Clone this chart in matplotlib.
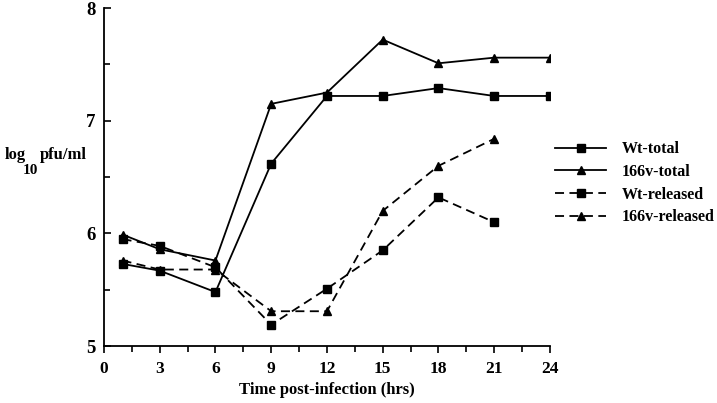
import matplotlib.pyplot as plt
from matplotlib.ticker import MultipleLocator

# ------------------------------
# DATA
# ------------------------------
hours = [1, 3, 6, 9, 12, 15, 18, 21, 24]
hours_rel = [1, 3, 6, 9, 12, 15, 18, 21]

wt_total = [5.73, 5.67, 5.48, 6.62, 7.22, 7.22, 7.29, 7.22, 7.22]
v166_total = [5.99, 5.86, 5.76, 7.15, 7.25, 7.72, 7.51, 7.56, 7.56]
wt_released = [5.95, 5.89, 5.70, 5.19, 5.51, 5.85, 6.32, 6.10]
v166_released = [5.76, 5.68, 5.68, 5.31, 5.31, 6.20, 6.60, 6.84]

x_ticks = [0, 3, 6, 9, 12, 15, 18, 21, 24]
y_ticks = [5, 6, 7, 8]

plt.rcParams["font.family"] = ["Liberation Serif", "DejaVu Serif"]
plt.rcParams["font.weight"] = "bold"

fig = plt.figure(figsize=(7.17, 4.03), dpi=100)
ax = fig.add_axes([0.145, 0.141, 0.622, 0.839])

lw = 1.3
dash = (5, 3)
ax.plot(hours, wt_total, color="black", lw=lw, marker="s", ms=6, label="Wt-total")
ax.plot(hours, v166_total, color="black", lw=lw, marker="^", ms=6, label="166v-total")
ax.plot(hours_rel, wt_released, color="black", lw=lw, marker="s", ms=6,
        linestyle="--", dashes=dash, label="Wt-released")
ax.plot(hours_rel, v166_released, color="black", lw=lw, marker="^", ms=6,
        linestyle="--", dashes=dash, label="166v-released")

ax.set_xlim(0, 24)
ax.set_ylim(5, 8)
ax.set_xticks(x_ticks)
ax.set_yticks(y_ticks)
ax.xaxis.set_minor_locator(MultipleLocator(1.5))
ax.yaxis.set_minor_locator(MultipleLocator(0.5))

ax.spines["top"].set_visible(False)
ax.spines["right"].set_visible(False)
for s in ["left", "bottom"]:
    ax.spines[s].set_linewidth(1.3)

ax.tick_params(axis="x", which="major", direction="out", length=5, width=1.2,
               labelsize=12.5, pad=6)
ax.tick_params(axis="x", which="minor", direction="out", length=4, width=1.2)
ax.tick_params(axis="y", which="major", direction="in", length=5, width=1.2,
               labelsize=13.5, pad=6)
ax.tick_params(axis="y", which="minor", direction="in", length=4, width=1.2)
for lab in ax.get_xticklabels() + ax.get_yticklabels():
    lab.set_fontweight("bold")

ax.set_xlabel("Time post-infection (hrs)", fontsize=12, fontweight="bold", labelpad=3)

# y label: log10 pfu/ml with lowered subscript
fig.text(0.007, 0.605, "log", fontsize=12, fontweight="bold", ha="left", va="baseline")
fig.text(0.056, 0.605, "pfu/ml", fontsize=12, fontweight="bold", ha="left", va="baseline")
fig.text(0.032, 0.568, "10", fontsize=11, fontweight="bold", ha="left", va="baseline")

leg = ax.legend(loc="center left", bbox_to_anchor=(0.774, 0.545),
                bbox_transform=fig.transFigure, frameon=False, numpoints=1,
                borderpad=0, borderaxespad=0,
                handlelength=3.2, handletextpad=1.0, labelspacing=0.42,
                prop={"size": 11.5, "weight": "bold"})

fig.savefig("out.png", dpi=100)
